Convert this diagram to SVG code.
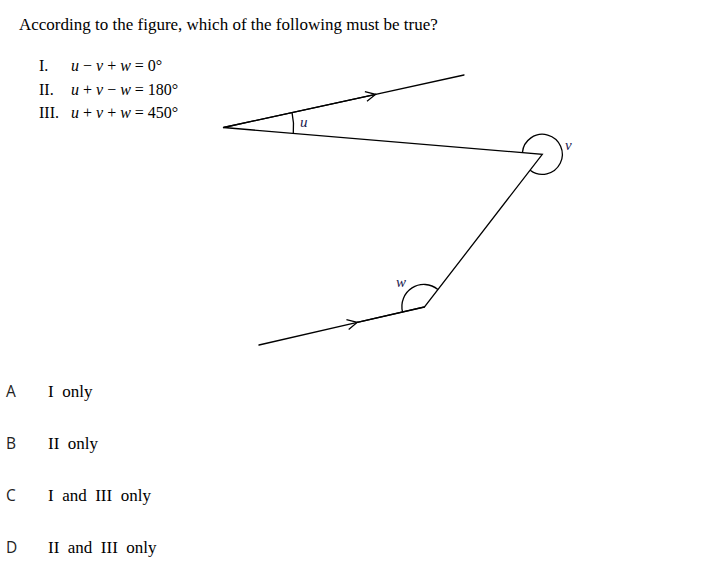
<svg xmlns="http://www.w3.org/2000/svg" width="718" height="566" viewBox="0 0 718 566">
  <style>
    .serif { font-family: "Liberation Serif", "Times New Roman", serif; fill: #000; }
    .sans { font-family: "Open Sans", "Liberation Sans", sans-serif; fill: #222; font-size: 15.5px; }
    .ln { stroke: #000; stroke-width: 1.3; fill: none; stroke-linecap: round; stroke-linejoin: miter; }
    .arc { stroke: #000; stroke-width: 1.3; fill: none; }
    .var { font-family: "Liberation Serif", "Times New Roman", serif; font-style: italic; font-size: 15px; fill: #1a2050; }
  </style>
  <defs>
    <marker id="chev" viewBox="-12 -7 14 14" markerWidth="14" markerHeight="14" refX="0" refY="0" orient="auto" markerUnits="userSpaceOnUse">
      <path d="M-10,-5 L0,0 L-10,5" fill="none" stroke="#000" stroke-width="1.2" stroke-linejoin="miter"/>
    </marker>
  </defs>
  <rect width="718" height="566" fill="#fff"/>

  <g id="question">
    <text class="serif" x="19" y="30" font-size="17">According to the figure, which of the following must be true?</text>
    <text class="serif" x="39" y="71" font-size="16">I.</text>
    <text class="serif" x="71" y="71" font-size="16"><tspan font-style="italic">u</tspan> − <tspan font-style="italic">v</tspan> + <tspan font-style="italic">w</tspan> = 0°</text>
    <text class="serif" x="39" y="95" font-size="16">II.</text>
    <text class="serif" x="71" y="95" font-size="16"><tspan font-style="italic">u</tspan> + <tspan font-style="italic">v</tspan> − <tspan font-style="italic">w</tspan> = 180°</text>
    <text class="serif" x="39" y="118" font-size="16">III.</text>
    <text class="serif" x="71" y="118" font-size="16"><tspan font-style="italic">u</tspan> + <tspan font-style="italic">v</tspan> + <tspan font-style="italic">w</tspan> = 450°</text>
  </g>

  <g id="connectors">
    <path class="ln" d="M464,75 L375.7,94.3 M375.7,94.3 L223.5,127.5 L542.3,154.3 L424.5,307 L357.3,322.3"/>
    <path class="ln" d="M223.5,127.5 L375.7,94.3" marker-end="url(#chev)"/>
    <path class="ln" d="M259,345 L357.3,322.3" marker-end="url(#chev)"/>
    <path class="ln" d="M357.3,322.3 L424.5,307"/>
  </g>

  <g id="angle-u">
    <path class="arc" d="M292,112.3 A70,70 0 0 1 293.3,133.2"/>
    <text class="var" x="300" y="127">u</text>
  </g>
  <g id="angle-v">
    <path class="arc" d="M522.4,152.6 A20,20 0 1 1 530.2,170.2"/>
    <text class="var" x="565" y="150">v</text>
  </g>
  <g id="angle-w">
    <path class="arc" d="M402.6,312 A22,22 0 0 1 437.9,289.5"/>
    <text class="var" x="396" y="287">w</text>
  </g>

  <g id="options">
    <text class="sans" x="6" y="397">A</text>
    <text class="serif" x="48" y="397" font-size="17" style="white-space:pre">I  only</text>
    <text class="sans" x="6" y="449">B</text>
    <text class="serif" x="48" y="449" font-size="17" style="white-space:pre">II  only</text>
    <text class="sans" x="6" y="501">C</text>
    <text class="serif" x="48" y="501" font-size="17" style="white-space:pre">I  and  III  only</text>
    <text class="sans" x="6" y="553">D</text>
    <text class="serif" x="48" y="553" font-size="17" style="white-space:pre">II  and  III  only</text>
  </g>
</svg>
